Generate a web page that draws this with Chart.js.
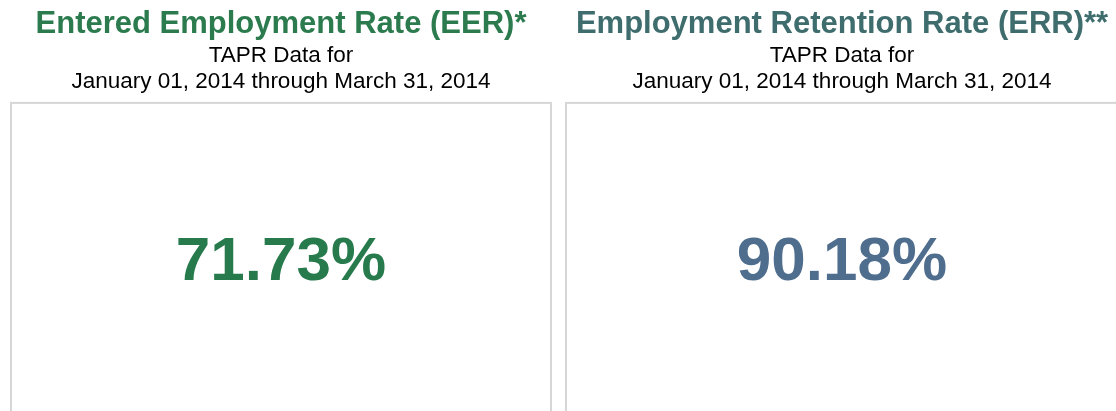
<!DOCTYPE html>
<html>
<head>
<meta charset="utf-8">
<script src="https://cdn.jsdelivr.net/npm/chart.js@4"></script>
<style>
    html, body { margin: 0; padding: 0; background: #fff; overflow: hidden; width: 1116px; height: 411px; }
    .panel { position: absolute; top: 0; width: 562px; height: 420px; }
    #panel-eer { left: 0; }
    #panel-err { left: 561px; }
</style>
</head>
<body>
<div class="panel" id="panel-eer"><canvas id="eerChart"></canvas></div>
<div class="panel" id="panel-err"><canvas id="errChart"></canvas></div>
<script>
// Values
const metricTitles = ['Entered Employment Rate (EER)*', 'Employment Retention Rate (ERR)**'];
const periodLines = ['TAPR Data for', 'January 01, 2014 through March 31, 2014'];
const metricCodes = ['EER', 'ERR'];
const eerValues = [71.73];
const errValues = [90.18];

const titleColors = ['#2b7b4e', '#3f6d6e'];
const valueColors = ['#267a4c', '#4f6e8e'];

const FONT = '"Liberation Sans", Arial, Helvetica, sans-serif';
const VALUE_SIZE = 62;

// Draws the box around the chart area and the big value in its middle
const kpiPlugin = {
    id: 'kpi',
    beforeDraw(chart) {
        const { ctx, chartArea } = chart;
        ctx.save();
        ctx.strokeStyle = '#d6d6d6';
        ctx.lineWidth = 2;
        ctx.strokeRect(chartArea.left, chartArea.top, chartArea.right - chartArea.left, chartArea.bottom - chartArea.top);
        ctx.restore();
    },
    afterDraw(chart) {
        const { ctx, chartArea } = chart;
        const ds = chart.data.datasets[0];
        const bar = chart.getDatasetMeta(0).data[0];
        const value = ds.data[0];
        const midY = (chartArea.top + chartArea.bottom) / 2;
        ctx.save();
        ctx.fillStyle = ds.valueColor;
        ctx.font = 'bold ' + VALUE_SIZE + 'px ' + FONT;
        ctx.textAlign = 'center';
        ctx.textBaseline = 'alphabetic';
        // put the middle of the digits (cap height ~0.716em) on midY
        ctx.fillText(value.toFixed(2) + '%', bar.x, midY + VALUE_SIZE * 0.358 - 1);
        ctx.restore();
    }
};

function makeKpi(canvasId, idx, values, sidePad) {
    return new Chart(document.getElementById(canvasId), {
        type: 'bar',
        data: {
            labels: [metricCodes[idx]],
            datasets: [{
                label: metricCodes[idx],
                data: values,
                backgroundColor: 'rgba(0,0,0,0)',
                valueColor: valueColors[idx]
            }]
        },
        options: {
            responsive: true,
            maintainAspectRatio: false,
            animation: false,
            events: [],
            layout: { padding: { left: sidePad, right: sidePad, top: 0, bottom: 6 } },
            scales: {
                x: { display: false },
                y: { display: false, min: 0, max: 100 }
            },
            plugins: {
                legend: { display: false },
                tooltip: { enabled: false },
                title: {
                    display: true,
                    text: metricTitles[idx],
                    color: titleColors[idx],
                    font: { family: FONT, size: 31, weight: 'bold', lineHeight: 1.2 },
                    padding: { top: 5.5, bottom: 0 }
                },
                subtitle: {
                    display: true,
                    text: periodLines,
                    color: '#000',
                    font: { family: FONT, size: 22.5, lineHeight: 1.16 },
                    padding: { top: 0, bottom: 8 }
                }
            }
        },
        plugins: [kpiPlugin]
    });
}

document.addEventListener('DOMContentLoaded', () => {
    makeKpi('eerChart', 0, eerValues, 11);
    // right panel box runs past the window edge, so its right side is cut off
    makeKpi('errChart', 1, errValues, 5);
});
</script>
</body>
</html>
